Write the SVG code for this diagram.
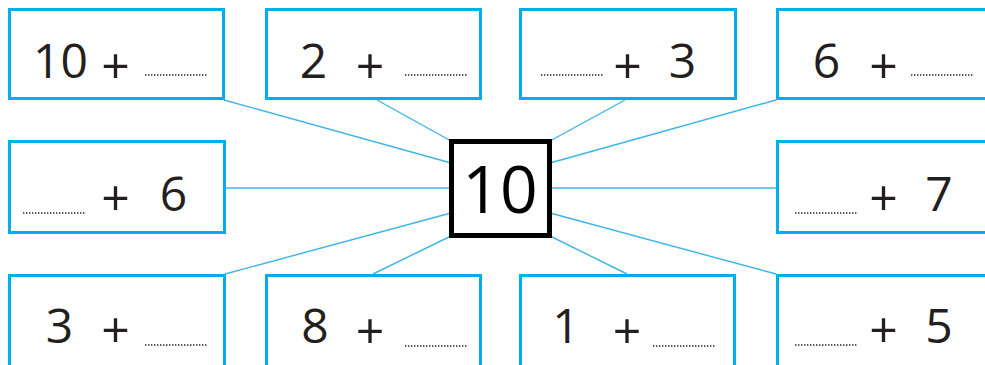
<svg xmlns="http://www.w3.org/2000/svg" width="985" height="365" viewBox="0 0 985 365">
<style>
.box{fill:#fff;stroke:#00aeef;stroke-width:3}
.cn{stroke:#3cb4e8;stroke-width:1.4;fill:none}
.n{font-family:"Open Sans","Liberation Sans",sans-serif;font-size:48px;fill:#231f20;text-anchor:middle}
.p{font-family:"Open Sans","Liberation Sans",sans-serif;font-size:50px;fill:#231f20;text-anchor:middle}
.d{stroke:#231f20;stroke-width:1.6;stroke-dasharray:1.4 1.6;fill:none}
.c{fill:#fff;stroke:#000;stroke-width:5}
.cl{font-family:"Open Sans","Liberation Sans",sans-serif;font-size:66px;fill:#000;text-anchor:middle}
</style>
<rect width="985" height="365" fill="#fff"/>
<g id="connectors">
<line class="cn" x1="224" y1="100" x2="451" y2="163"/>
<line class="cn" x1="377" y1="100" x2="451" y2="141"/>
<line class="cn" x1="625" y1="100" x2="550" y2="141"/>
<line class="cn" x1="776" y1="100" x2="550" y2="163"/>
<line class="cn" x1="225" y1="188" x2="451" y2="188"/>
<line class="cn" x1="550" y1="188" x2="776" y2="188"/>
<line class="cn" x1="225" y1="274" x2="451" y2="213"/>
<line class="cn" x1="373" y1="274" x2="451" y2="236"/>
<line class="cn" x1="627" y1="274" x2="550" y2="236"/>
<line class="cn" x1="776" y1="274" x2="550" y2="213"/>
</g>
<g id="center">
<rect class="c" x="451.5" y="141.5" width="98" height="94"/>
<text class="cl" x="500" y="213">10</text>
</g>
<g id="n1">
<rect class="box" x="9.5" y="9.5" width="214" height="89"/>
<text class="n" x="60.5" y="78">10</text>
<text class="p" x="115.5" y="84">+</text>
<line class="d" x1="145" y1="75" x2="207" y2="75"/>
</g>
<g id="n2">
<rect class="box" x="266.5" y="9.5" width="214" height="89"/>
<text class="n" x="313.5" y="78">2</text>
<text class="p" x="370" y="84">+</text>
<line class="d" x1="405" y1="75" x2="467" y2="75"/>
</g>
<g id="n3">
<rect class="box" x="520.5" y="9.5" width="215" height="89"/>
<line class="d" x1="541" y1="75" x2="603" y2="75"/>
<text class="p" x="627.5" y="84">+</text>
<text class="n" x="682.5" y="78">3</text>
</g>
<g id="n4">
<rect class="box" x="777.5" y="9.5" width="215" height="89"/>
<text class="n" x="826.5" y="78">6</text>
<text class="p" x="883.5" y="84">+</text>
<line class="d" x1="911" y1="75" x2="973" y2="75"/>
</g>
<g id="n5">
<rect class="box" x="9.5" y="141.5" width="215" height="91"/>
<line class="d" x1="23" y1="213" x2="85" y2="213"/>
<text class="p" x="115.5" y="216">+</text>
<text class="n" x="173.5" y="211">6</text>
</g>
<g id="n6">
<rect class="box" x="777.5" y="141.5" width="215" height="91"/>
<line class="d" x1="795" y1="213" x2="857" y2="213"/>
<text class="p" x="883.5" y="216">+</text>
<text class="n" x="939" y="211">7</text>
</g>
<g id="n7">
<rect class="box" x="9.5" y="275.5" width="215" height="91"/>
<text class="n" x="59.5" y="343">3</text>
<text class="p" x="115.5" y="348">+</text>
<line class="d" x1="145" y1="345" x2="207" y2="345"/>
</g>
<g id="n8">
<rect class="box" x="266.5" y="275.5" width="214" height="91"/>
<text class="n" x="315" y="343">8</text>
<text class="p" x="370" y="349">+</text>
<line class="d" x1="405" y1="346" x2="467" y2="346"/>
</g>
<g id="n9">
<rect class="box" x="520.5" y="275.5" width="214" height="91"/>
<text class="n" x="566" y="343">1</text>
<text class="p" x="627" y="349">+</text>
<line class="d" x1="653" y1="346" x2="715" y2="346"/>
</g>
<g id="n10">
<rect class="box" x="777.5" y="275.5" width="215" height="91"/>
<line class="d" x1="795" y1="345" x2="857" y2="345"/>
<text class="p" x="883.5" y="348">+</text>
<text class="n" x="939" y="343">5</text>
</g>
</svg>
